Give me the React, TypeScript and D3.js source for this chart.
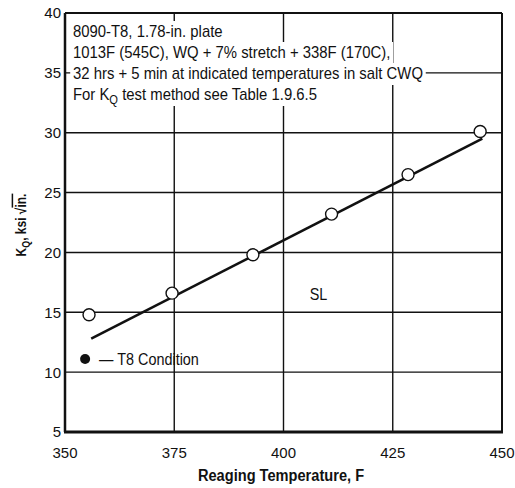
import React, { useRef, useEffect } from "react";
import * as d3 from "d3";

// reaging temperature (F) vs K_Q (ksi sqrt in.)
const temps = [355.5, 374.5, 393, 411, 428.5, 445];
const kq = [14.8, 16.6, 19.8, 23.2, 26.5, 30.1];

// fitted line end points
const fitTemps = [356, 445.5];
const fitKq = [12.8, 29.5];

const xTicks = [350, 375, 400, 425, 450];
const yTicks = [5, 10, 15, 20, 25, 30, 35, 40];
const xGrid = [375, 400, 425];
const yGrid = [10, 15, 20, 25, 30, 35];

const noteLines = [
  "8090-T8, 1.78-in. plate",
  "1013F (545C), WQ + 7% stretch + 338F (170C),",
  "32 hrs + 5 min at indicated temperatures in salt CWQ",
];

const FONT = "'Liberation Sans', Arial, sans-serif";

// squeeze text horizontally about x0 (no narrow font available)
const condense = (x0: number, k: number) => `translate(${x0 * (1 - k)},0) scale(${k},1)`;

const App: React.FC = () => {
  const svgRef = useRef<SVGSVGElement | null>(null);
  const width = 515;
  const height = 488;

  useEffect(() => {
    document.body.style.margin = "0";
    const svg = d3.select(svgRef.current);
    svg.selectAll("*").remove();
    svg.attr("width", width).attr("height", height);

    const x = d3.scaleLinear().domain([350, 450]).range([65, 502]);
    const y = d3.scaleLinear().domain([5, 40]).range([432, 13]);

    svg.append("rect").attr("width", width).attr("height", height).attr("fill", "#fff");

    // grid lines
    svg
      .selectAll("line.vg")
      .data(xGrid)
      .join("line")
      .attr("x1", (d) => x(d))
      .attr("x2", (d) => x(d))
      .attr("y1", y(40))
      .attr("y2", y(5))
      .attr("stroke", "#111")
      .attr("stroke-width", 1.4);

    svg
      .selectAll("line.hg")
      .data(yGrid)
      .join("line")
      .attr("x1", x(350))
      .attr("x2", x(450))
      .attr("y1", (d) => y(d))
      .attr("y2", (d) => y(d))
      .attr("stroke", "#111")
      .attr("stroke-width", 1.4);

    // note block with white backing
    const note = svg.append("g").attr("transform", condense(73, 0.93));
    const baselines = [37, 58, 79, 100];
    const texts = noteLines.map((t, i) =>
      note
        .append("text")
        .attr("x", 73)
        .attr("y", baselines[i])
        .attr("font-family", FONT)
        .attr("font-size", 16)
        .attr("fill", "#111")
        .text(t)
    );
    const last = note
      .append("text")
      .attr("x", 73)
      .attr("y", baselines[3])
      .attr("font-family", FONT)
      .attr("font-size", 16)
      .attr("fill", "#111");
    last.append("tspan").text("For K");
    last.append("tspan").attr("font-size", 12).attr("dy", 4).text("Q");
    last.append("tspan").attr("dy", -4).text(" test method see Table 1.9.6.5");
    texts.push(last);

    texts.forEach((t, i) => {
      const bb = (t.node() as SVGTextElement).getBBox();
      note
        .insert("rect", "text")
        .attr("x", bb.x - 3)
        .attr("y", baselines[i] - 16)
        .attr("width", bb.width + 6)
        .attr("height", 22)
        .attr("fill", "#fff");
    });

    // frame
    svg
      .append("line")
      .attr("x1", x(350)).attr("x2", x(350))
      .attr("y1", y(40)).attr("y2", y(5))
      .attr("stroke", "#111").attr("stroke-width", 2.5);
    svg
      .append("line")
      .attr("x1", x(350) - 1).attr("x2", x(450) + 1)
      .attr("y1", y(5)).attr("y2", y(5))
      .attr("stroke", "#111").attr("stroke-width", 3);
    svg
      .append("line")
      .attr("x1", x(450)).attr("x2", x(450))
      .attr("y1", y(40)).attr("y2", y(5))
      .attr("stroke", "#111").attr("stroke-width", 2);
    svg
      .append("line")
      .attr("x1", x(350)).attr("x2", x(450))
      .attr("y1", y(40)).attr("y2", y(40))
      .attr("stroke", "#111").attr("stroke-width", 2);

    // tick labels
    svg
      .selectAll("text.xt")
      .data(xTicks)
      .join("text")
      .attr("x", (d) => x(d))
      .attr("y", 458)
      .attr("text-anchor", "middle")
      .attr("font-family", FONT)
      .attr("font-size", 15)
      .attr("fill", "#111")
      .text((d) => d);

    svg
      .selectAll("text.yt")
      .data(yTicks)
      .join("text")
      .attr("x", 61)
      .attr("y", (d) => y(d))
      .attr("dy", "0.36em")
      .attr("text-anchor", "end")
      .attr("font-family", FONT)
      .attr("font-size", 15)
      .attr("fill", "#111")
      .text((d) => d);

    // axis titles
    svg
      .append("text")
      .attr("transform", condense(281, 0.86))
      .attr("x", 281)
      .attr("y", 481)
      .attr("text-anchor", "middle")
      .attr("font-family", FONT)
      .attr("font-weight", "bold")
      .attr("font-size", 17)
      .attr("fill", "#111")
      .text("Reaging Temperature, F");

    const yl = svg
      .append("text")
      .attr("transform", "translate(26,225) rotate(-90) scale(0.8,1)")
      .attr("text-anchor", "middle")
      .attr("font-family", FONT)
      .attr("font-weight", "bold")
      .attr("font-size", 15)
      .attr("fill", "#111");
    yl.append("tspan").text("K");
    yl.append("tspan").attr("font-size", 11).attr("dy", 4).text("Q");
    yl.append("tspan").attr("dy", -4).text(", ksi \u221A");
    yl.append("tspan").style("text-decoration", "overline").text("in.");

    // fitted line
    const line = d3
      .line<number>()
      .x((d) => x(d))
      .y((_, i) => y(fitKq[i]));
    svg
      .append("path")
      .datum(fitTemps)
      .attr("d", line)
      .attr("fill", "none")
      .attr("stroke", "#111")
      .attr("stroke-width", 2.6);

    // data points
    svg
      .selectAll("circle.pt")
      .data(temps)
      .join("circle")
      .attr("cx", (d) => x(d))
      .attr("cy", (_, i) => y(kq[i]))
      .attr("r", 6)
      .attr("fill", "#fff")
      .attr("stroke", "#111")
      .attr("stroke-width", 1.4);

    // SL label
    svg
      .append("text")
      .attr("transform", condense(x(408), 0.9))
      .attr("x", x(408))
      .attr("y", y(16))
      .attr("text-anchor", "middle")
      .attr("font-family", FONT)
      .attr("font-size", 16)
      .attr("fill", "#111")
      .text("SL");

    // legend
    svg
      .append("circle")
      .attr("cx", x(354.6))
      .attr("cy", y(11.1))
      .attr("r", 5)
      .attr("fill", "#111");
    svg
      .append("text")
      .attr("transform", condense(x(357.8), 0.9))
      .attr("x", x(357.8))
      .attr("y", y(11.1))
      .attr("dy", "0.36em")
      .attr("font-family", FONT)
      .attr("font-size", 16)
      .attr("fill", "#111")
      .text("\u2014 T8 Condition");
  }, []);

  return <svg ref={svgRef}></svg>;
};

export default App;
